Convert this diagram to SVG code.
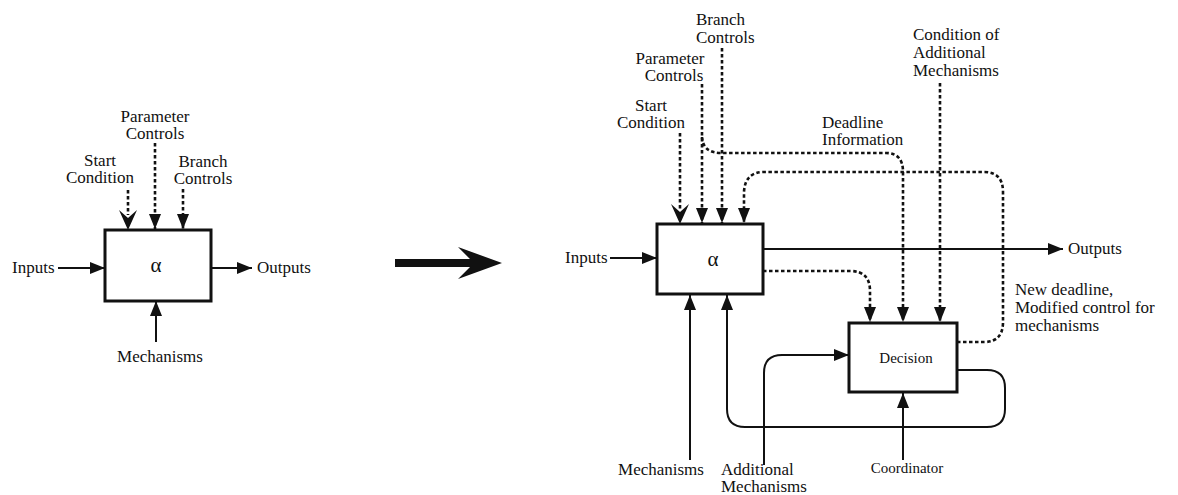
<svg xmlns="http://www.w3.org/2000/svg" width="1178" height="495" viewBox="0 0 1178 495">
<style>
text{font-family:"Liberation Serif","Times New Roman",serif;font-size:17px;fill:#111}
.sm{font-size:15px}
.al{font-size:21px}
.c{text-anchor:middle}
.box{fill:#fff;stroke:#111;stroke-width:3}
.ln{fill:none;stroke:#111;stroke-width:2}
.dl{fill:none;stroke:#111;stroke-width:2.6;stroke-dasharray:3.5 2.5}
.notch{fill:#111}
</style>
<defs>
<marker id="ah" markerUnits="userSpaceOnUse" markerWidth="16" markerHeight="12" refX="15" refY="6" orient="auto">
<path d="M0,0 L15,6 L0,12 Z" fill="#111"/>
</marker>
</defs>
<rect width="1178" height="495" fill="#fff"/>

<!-- LEFT DIAGRAM -->
<g id="left-alpha"><rect class="box" x="105" y="230" width="106" height="71"/><text x="156" y="272" class="c al">α</text></g>
<g id="left-inputs"><text x="12" y="273">Inputs</text></g>
<g id="left-outputs"><text x="257" y="273">Outputs</text></g>
<g id="left-mechanisms"><text x="160" y="362" class="c">Mechanisms</text></g>
<g id="left-start"><text x="100" y="166" class="c">Start</text><text x="100" y="183" class="c">Condition</text></g>
<g id="left-param"><text x="155" y="122" class="c">Parameter</text><text x="155" y="139" class="c">Controls</text></g>
<g id="left-branch"><text x="203" y="167" class="c">Branch</text><text x="203" y="184" class="c">Controls</text></g>

<g id="left-connectors">
<line class="ln" x1="58" y1="268" x2="105" y2="268" marker-end="url(#ah)"/>
<line class="ln" x1="211" y1="268" x2="252" y2="268" marker-end="url(#ah)"/>
<line class="ln" x1="156" y1="342" x2="156" y2="301" marker-end="url(#ah)"/>
<line class="dl" x1="128" y1="190" x2="128" y2="215"/>
<path class="notch" d="M119,210 L128,230 L137,210 L128,218 Z"/>
<line class="dl" x1="155" y1="143" x2="155" y2="229" marker-end="url(#ah)"/>
<line class="dl" x1="183" y1="189" x2="183" y2="229" marker-end="url(#ah)"/>
</g>

<!-- BIG ARROW -->
<g id="transform-arrow"><path d="M395,259 L470,259 L458,247 L502,263 L458,279 L470,267 L395,267 Z" fill="#111"/></g>

<!-- RIGHT DIAGRAM -->
<g id="alpha"><rect class="box" x="657" y="224" width="106" height="70"/><text x="713" y="266" class="c al">α</text></g>
<g id="decision"><rect class="box" x="849" y="323" width="108" height="69"/><text x="906" y="363" class="c sm">Decision</text></g>
<g id="inputs"><text x="565" y="263">Inputs</text></g>
<g id="outputs"><text x="1068" y="254">Outputs</text></g>
<g id="start"><text x="651" y="111" class="c">Start</text><text x="651" y="128" class="c">Condition</text></g>
<g id="param"><text x="670" y="64" class="c">Parameter</text><text x="674" y="81" class="c">Controls</text></g>
<g id="branch"><text x="696" y="25">Branch</text><text x="696" y="43">Controls</text></g>
<g id="deadline"><text x="822" y="128">Deadline</text><text x="822" y="145">Information</text></g>
<g id="cond-add"><text x="913" y="40">Condition of</text><text x="913" y="58">Additional</text><text x="913" y="76">Mechanisms</text></g>
<g id="new-deadline"><text x="1015" y="295">New deadline,</text><text x="1015" y="313">Modified control for</text><text x="1015" y="331">mechanisms</text></g>
<g id="mechanisms"><text x="661" y="475" class="c">Mechanisms</text></g>
<g id="add-mech"><text x="721" y="475">Additional</text><text x="721" y="492">Mechanisms</text></g>
<g id="coordinator"><text x="907" y="473" class="c sm">Coordinator</text></g>

<g id="connectors">
<line class="ln" x1="610" y1="258" x2="657" y2="258" marker-end="url(#ah)"/>
<line class="ln" x1="763" y1="249" x2="1063" y2="249" marker-end="url(#ah)"/>
<line class="dl" x1="680" y1="133" x2="680" y2="209"/>
<path class="notch" d="M671,204 L680,224 L689,204 L680,212 Z"/>
<line class="dl" x1="702" y1="84" x2="702" y2="223" marker-end="url(#ah)"/>
<line class="dl" x1="722" y1="48" x2="722" y2="223" marker-end="url(#ah)"/>
<path class="dl" d="M702,137 Q703,153 721,153 L886,153 Q903,153 903,172 L903,322" marker-end="url(#ah)"/>
<line class="dl" x1="940" y1="83" x2="940" y2="322" marker-end="url(#ah)"/>
<path class="dl" d="M957,342 L984,342 Q1003,342 1003,322 L1003,192 Q1003,172 984,172 L764,172 Q745,172 744,192 L744,223" marker-end="url(#ah)"/>
<path class="dl" d="M763,271 L850,271 Q870,271 870,291 L870,322" marker-end="url(#ah)"/>
<path class="ln" d="M957,370 L987,370 Q1005,370 1005,388 L1005,409 Q1005,427 987,427 L745,427 Q727,427 727,409 L727,295" marker-end="url(#ah)"/>
<path class="ln" d="M764,465 L764,373 Q764,355 782,355 L849,355" marker-end="url(#ah)"/>
<line class="ln" x1="690" y1="460" x2="690" y2="295" marker-end="url(#ah)"/>
<line class="ln" x1="903" y1="460" x2="903" y2="393" marker-end="url(#ah)"/>
</g>
</svg>
